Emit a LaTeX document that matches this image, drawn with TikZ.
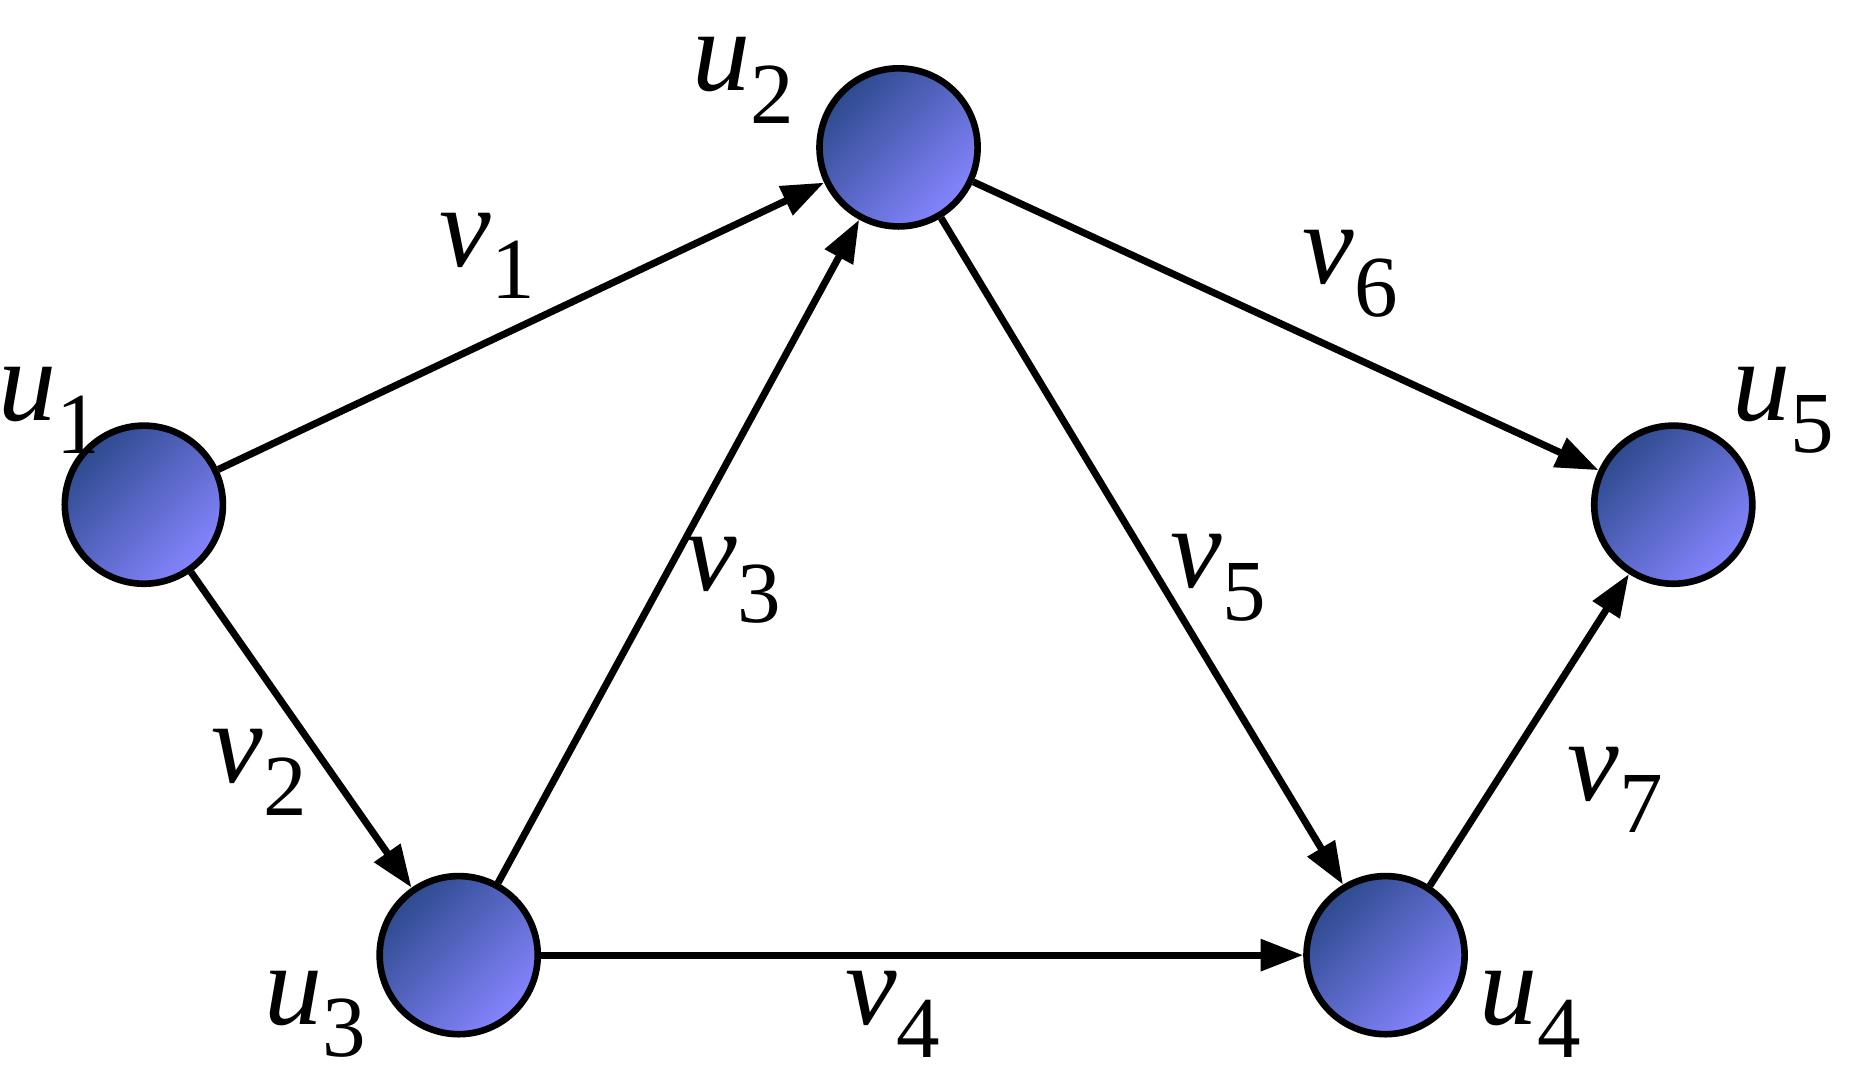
\documentclass[tikz,border=0pt]{standalone}
\usepackage{fontspec}
\setmainfont{Liberation Serif}
\newfontfamily\lfont{Liberation Serif}
\usetikzlibrary{arrows.meta}
\newcommand{\lbl}[2]{{\lfont\itshape #1}\raisebox{-0.28em}{\lfont\fontsize{21}{22}\selectfont #2}}
\definecolor{vdark}{HTML}{2E4A8E}
\definecolor{vlight}{HTML}{8585FF}
\begin{document}
\begin{tikzpicture}[x=0.01cm,y=-0.01cm,
  vert/.style={circle,draw=black,line width=1.6pt,minimum size=1.34cm,inner sep=0pt,
    shading=axis,top color=vdark,bottom color=vlight,shading angle=45},
  lab/.style={font=\lfont\fontsize{28}{30}\selectfont,inner sep=0pt},
  edge/.style={line width=1.7pt,-{Triangle[length=0.36cm,width=0.26cm]}}]
\useasboundingbox (0,0) rectangle (1568,922);
\node[vert] (u1) at (122,428) {};
\node[vert] (u2) at (762,125) {};
\node[vert] (u3) at (389,810) {};
\node[vert] (u4) at (1175,810) {};
\node[vert] (u5) at (1419,428) {};
\node[lab] (lu1) at (42,348) {\lbl{u}{1}};
\node[lab] (lu2) at (630,68) {\lbl{u}{2}};
\node[lab] (lu3) at (267,860) {\lbl{u}{3}};
\node[lab] (lu4) at (1298,860) {\lbl{u}{4}};
\node[lab] (lu5) at (1512,348) {\lbl{u}{5}};
\draw[edge] (u1) -- (u2);
\draw[edge] (u1) -- (u3);
\draw[edge] (u3) -- (u2);
\draw[edge] (u3) -- (u4);
\draw[edge] (u2) -- (u4);
\draw[edge] (u2) -- (u5);
\draw[edge] (u4) -- (u5);
\node[lab] (v1) at (413,217) {\lbl{v}{1}};
\node[lab] (v2) at (220,655) {\lbl{v}{2}};
\node[lab] (v3) at (622,492) {\lbl{v}{3}};
\node[lab] (v4) at (757,860) {\lbl{v}{4}};
\node[lab] (v5) at (1033,490) {\lbl{v}{5}};
\node[lab] (v6) at (1145,232) {\lbl{v}{6}};
\node[lab] (v7) at (1370,670) {\lbl{v}{7}};
\end{tikzpicture}
\end{document}
